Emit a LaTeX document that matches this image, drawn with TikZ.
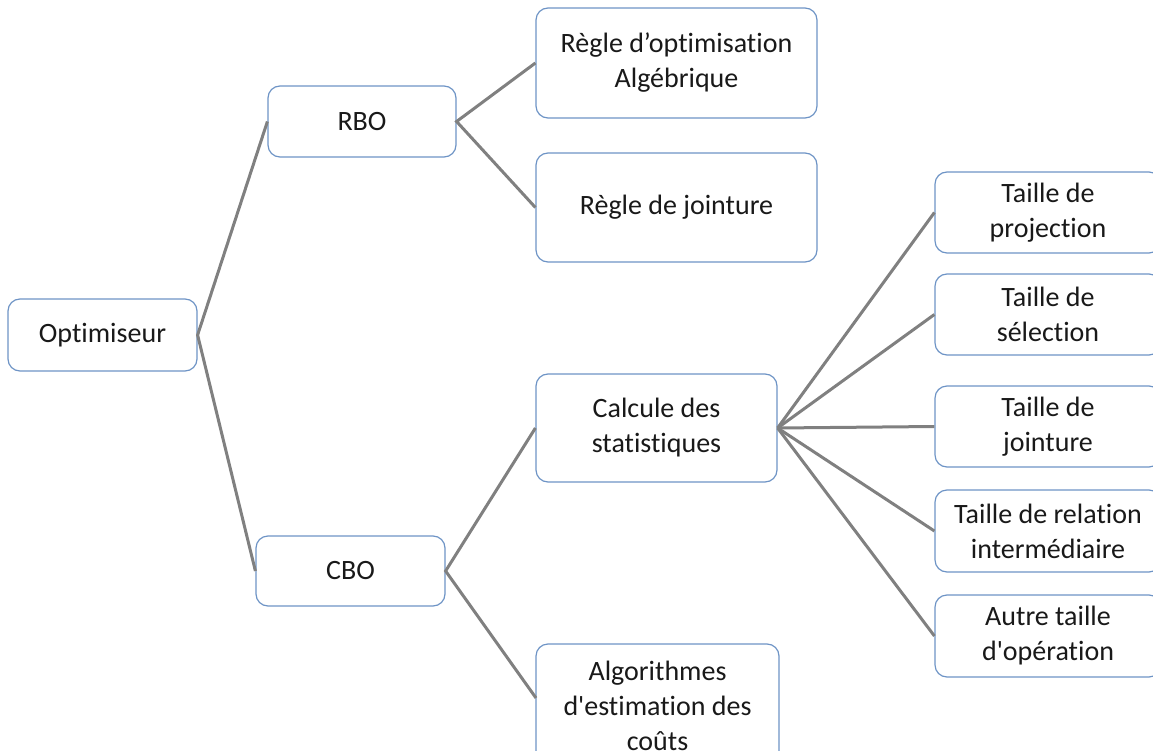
\documentclass[tikz,border=0pt]{standalone}
\usepackage{fontspec}
\setmainfont{Carlito}[Ligatures={TeXOff,NoCommon}]
\begin{document}
\begin{tikzpicture}[x=1pt,y=-1pt,
  box/.style={draw=boxblue, line width=1.2pt, rounded corners=12pt, fill=white,
    align=center, inner sep=0pt, font=\fontsize{28}{35}\selectfont, text=black!90},
  link/.style={draw=linkgray, line width=3pt}]
\definecolor{boxblue}{RGB}{110,148,198}
\definecolor{linkgray}{RGB}{128,128,128}
\useasboundingbox (0,0) rectangle (1153,751);
\begin{scope}
\clip (0,0) rectangle (1153,751);
\node[box, minimum width=189pt, minimum height=72pt] (opt) at (102.5,335) {Optimiseur};
\node[box, minimum width=188pt, minimum height=71pt] (rbo) at (362,121.5) {RBO};
\node[box, minimum width=281pt, minimum height=110pt] (r1) at (676.5,63) {Règle d’optimisation\\Algébrique};
\node[box, minimum width=281pt, minimum height=109pt] (r2) at (676.5,207.5) {Règle de jointure};
\node[box, minimum width=189pt, minimum height=70pt] (cbo) at (350.5,571) {CBO};
\node[box, minimum width=241pt, minimum height=108pt] (calc) at (656.5,428) {Calcule des\\statistiques};
\node[box, minimum width=243pt, minimum height=124pt] (alg) at (657.5,706) {Algorithmes\\d'estimation des\\coûts};
\coordinate (algw) at (536,698);
\node[box, minimum width=226pt, minimum height=81pt] (t1) at (1048,212.5) {Taille de\\projection};
\node[box, minimum width=226pt, minimum height=81pt] (t2) at (1048,314.5) {Taille de\\sélection};
\node[box, minimum width=226pt, minimum height=81pt] (t3) at (1048,426.5) {Taille de\\jointure};
\node[box, minimum width=226pt, minimum height=82pt] (t4) at (1048,531) {Taille de relation\\intermédiaire};
\node[box, minimum width=226pt, minimum height=82pt] (t5) at (1048,636) {Autre taille\\d'opération};
\draw[link] (rbo.west) -- (opt.east) -- (cbo.west);
\draw[link] (r1.west) -- (rbo.east) -- (r2.west);
\draw[link] (calc.west) -- (cbo.east) -- (algw);
\draw[link] (t1.west) -- (calc.east);
\draw[link] (t2.west) -- (calc.east);
\draw[link] (t3.west) -- (calc.east);
\draw[link] (t4.west) -- (calc.east);
\draw[link] (t5.west) -- (calc.east);
\end{scope}
\end{tikzpicture}
\end{document}
